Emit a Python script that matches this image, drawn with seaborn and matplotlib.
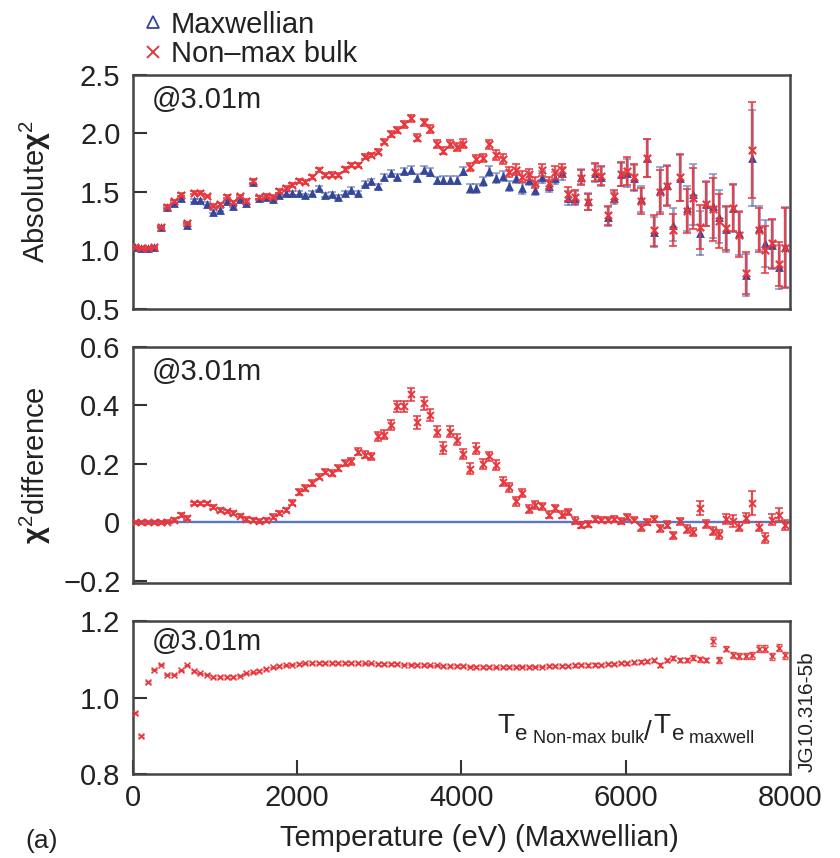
import numpy as np
import pandas as pd
import matplotlib
matplotlib.use("Agg")
import matplotlib.pyplot as plt
import seaborn as sns
from matplotlib.lines import Line2D

# Electron temperature grid (eV, Maxwellian fit)
temperature_ev = [
    20, 100, 180, 260, 340, 420, 500, 580, 660, 740,
    820, 900, 980, 1060, 1140, 1220, 1300, 1380, 1460, 1540,
    1620, 1700, 1780, 1860, 1940, 2020, 2100, 2180, 2260, 2340,
    2420, 2500, 2580, 2660, 2740, 2820, 2900, 2980, 3060, 3140,
    3220, 3300, 3380, 3460, 3540, 3620, 3700, 3780, 3860, 3940,
    4020, 4100, 4180, 4260, 4340, 4420, 4500, 4580, 4660, 4740,
    4820, 4900, 4980, 5060, 5140, 5220, 5300, 5380, 5460, 5540,
    5620, 5700, 5780, 5860, 5940, 6020, 6100, 6180, 6260, 6340,
    6420, 6500, 6580, 6660, 6740, 6820, 6900, 6980, 7060, 7140,
    7220, 7300, 7380, 7460, 7540, 7620, 7700, 7780, 7860, 7940,
]

# Absolute chi^2 of the Maxwellian fit
chi2_maxwellian = [
    1.03, 1.02, 1.02, 1.03, 1.20, 1.37, 1.41, 1.45, 1.22, 1.43,
    1.43, 1.40, 1.33, 1.35, 1.42, 1.38, 1.44, 1.41, 1.585, 1.45,
    1.46, 1.44, 1.476, 1.49, 1.49, 1.49, 1.47, 1.49, 1.53, 1.47,
    1.48, 1.46, 1.49, 1.52, 1.49, 1.57, 1.59, 1.55, 1.63, 1.66,
    1.63, 1.68, 1.69, 1.62, 1.69, 1.67, 1.60, 1.60, 1.60, 1.60,
    1.68, 1.53, 1.53, 1.59, 1.68, 1.62, 1.64, 1.55, 1.62, 1.53,
    1.605, 1.52, 1.63, 1.55, 1.62, 1.66, 1.45, 1.45, 1.63, 1.42,
    1.66, 1.63, 1.29, 1.45, 1.65, 1.66, 1.62, 1.44, 1.79, 1.16,
    1.52, 1.56, 1.22, 1.62, 1.36, 1.48, 1.15, 1.40, 1.38, 1.29,
    1.18, 1.36, 1.15, 0.79, 1.79, 1.19, 1.06, 1.05, 0.86, 1.03,
]

# chi^2(non-Maxwellian bulk) - chi^2(Maxwellian)
chi2_difference = [
    0.000, 0.000, 0.000, 0.000, 0.000, 0.003, 0.010, 0.026, 0.015, 0.065,
    0.065, 0.065, 0.053, 0.043, 0.038, 0.032, 0.023, 0.012, 0.009, 0.004,
    0.009, 0.020, 0.032, 0.043, 0.068, 0.104, 0.118, 0.135, 0.157, 0.174,
    0.169, 0.186, 0.203, 0.209, 0.241, 0.231, 0.226, 0.294, 0.300, 0.332,
    0.397, 0.397, 0.439, 0.343, 0.408, 0.368, 0.311, 0.254, 0.311, 0.283,
    0.234, 0.184, 0.252, 0.200, 0.226, 0.197, 0.140, 0.120, 0.072, 0.100,
    0.047, 0.060, 0.055, 0.026, 0.049, 0.026, 0.036, 0.006, -0.008, -0.005,
    0.013, 0.010, 0.010, 0.013, 0.004, 0.020, 0.010, -0.017, 0.001, 0.012,
    -0.019, -0.008, -0.044, 0.004, -0.022, -0.033, 0.049, -0.005, -0.028, -0.040,
    0.012, 0.004, -0.014, 0.015, 0.066, -0.014, -0.053, 0.010, 0.026, -0.008,
]

# Te(non-Maxwellian bulk) / Te(Maxwellian)
te_ratio = [
    0.960, 0.900, 1.040, 1.073, 1.086, 1.060, 1.060, 1.071, 1.084, 1.069,
    1.063, 1.060, 1.054, 1.053, 1.053, 1.054, 1.057, 1.063, 1.066, 1.070,
    1.075, 1.079, 1.082, 1.084, 1.086, 1.088, 1.089, 1.090, 1.090, 1.090,
    1.090, 1.090, 1.090, 1.090, 1.090, 1.089, 1.089, 1.088, 1.088, 1.087,
    1.087, 1.086, 1.086, 1.085, 1.085, 1.084, 1.084, 1.083, 1.083, 1.082,
    1.082, 1.081, 1.080, 1.080, 1.080, 1.079, 1.080, 1.080, 1.080, 1.081,
    1.080, 1.081, 1.081, 1.082, 1.082, 1.083, 1.083, 1.084, 1.085, 1.084,
    1.086, 1.085, 1.087, 1.088, 1.090, 1.089, 1.092, 1.094, 1.095, 1.098,
    1.086, 1.097, 1.104, 1.099, 1.098, 1.104, 1.100, 1.098, 1.147, 1.098,
    1.128, 1.112, 1.108, 1.108, 1.110, 1.128, 1.128, 1.108, 1.130, 1.110,
]

# Uncertainties
chi2_error = [
    0.010, 0.010, 0.010, 0.010, 0.012, 0.012, 0.012, 0.012, 0.012, 0.012,
    0.012, 0.012, 0.012, 0.012, 0.012, 0.012, 0.014, 0.014, 0.014, 0.014,
    0.014, 0.014, 0.015, 0.015, 0.015, 0.016, 0.016, 0.016, 0.017, 0.017,
    0.018, 0.018, 0.019, 0.019, 0.020, 0.020, 0.021, 0.022, 0.024, 0.025,
    0.026, 0.027, 0.028, 0.030, 0.030, 0.031, 0.032, 0.033, 0.033, 0.034,
    0.035, 0.036, 0.037, 0.038, 0.040, 0.040, 0.042, 0.044, 0.045, 0.046,
    0.048, 0.050, 0.052, 0.054, 0.055, 0.056, 0.060, 0.060, 0.065, 0.070,
    0.075, 0.080, 0.080, 0.050, 0.100, 0.120, 0.110, 0.110, 0.160, 0.130,
    0.190, 0.170, 0.140, 0.200, 0.190, 0.260, 0.190, 0.190, 0.270, 0.230,
    0.190, 0.200, 0.190, 0.180, 0.410, 0.190, 0.200, 0.210, 0.190, 0.340,
]
difference_error = [
    0.005, 0.005, 0.005, 0.005, 0.005, 0.005, 0.006, 0.006, 0.006, 0.006,
    0.006, 0.006, 0.006, 0.006, 0.006, 0.006, 0.006, 0.006, 0.007, 0.007,
    0.007, 0.008, 0.008, 0.008, 0.008, 0.009, 0.009, 0.009, 0.010, 0.010,
    0.010, 0.011, 0.011, 0.011, 0.012, 0.012, 0.012, 0.015, 0.016, 0.017,
    0.020, 0.020, 0.022, 0.022, 0.022, 0.020, 0.020, 0.020, 0.020, 0.018,
    0.018, 0.020, 0.018, 0.018, 0.016, 0.016, 0.015, 0.015, 0.015, 0.014,
    0.013, 0.013, 0.013, 0.012, 0.012, 0.012, 0.011, 0.011, 0.010, 0.010,
    0.010, 0.010, 0.010, 0.010, 0.010, 0.010, 0.010, 0.011, 0.011, 0.011,
    0.012, 0.012, 0.012, 0.012, 0.013, 0.013, 0.025, 0.014, 0.014, 0.015,
    0.016, 0.020, 0.016, 0.016, 0.040, 0.016, 0.016, 0.020, 0.022, 0.018,
]
ratio_error = [
    0.002, 0.002, 0.002, 0.002, 0.002, 0.002, 0.002, 0.002, 0.002, 0.002,
    0.002, 0.002, 0.002, 0.002, 0.002, 0.002, 0.002, 0.002, 0.002, 0.002,
    0.002, 0.002, 0.002, 0.002, 0.002, 0.002, 0.002, 0.002, 0.002, 0.002,
    0.002, 0.002, 0.002, 0.002, 0.002, 0.002, 0.002, 0.002, 0.002, 0.002,
    0.002, 0.002, 0.002, 0.002, 0.002, 0.002, 0.002, 0.002, 0.002, 0.002,
    0.002, 0.002, 0.002, 0.002, 0.002, 0.002, 0.002, 0.002, 0.002, 0.002,
    0.002, 0.002, 0.002, 0.002, 0.002, 0.002, 0.003, 0.003, 0.003, 0.003,
    0.003, 0.003, 0.003, 0.003, 0.003, 0.003, 0.004, 0.004, 0.004, 0.004,
    0.005, 0.005, 0.005, 0.005, 0.005, 0.006, 0.006, 0.006, 0.012, 0.007,
    0.007, 0.008, 0.008, 0.008, 0.008, 0.008, 0.009, 0.009, 0.009, 0.010,
]

series_labels = ["Maxwellian", "Non\u2013max bulk"]
chi2_ticks = [0.5, 1.0, 1.5, 2.0, 2.5]
diff_ticks = [-0.2, 0.0, 0.2, 0.4, 0.6]
diff_ticklabels = ["\u22120.2", "0", "0.2", "0.4", "0.6"]
ratio_ticks = [0.8, 1.0, 1.2]
temp_ticks = [0, 2000, 4000, 6000, 8000]

df = pd.DataFrame({
    "T": temperature_ev,
    "maxw": chi2_maxwellian,
    "diff": chi2_difference,
    "ratio": te_ratio,
    "err": chi2_error,
    "derr": difference_error,
    "rerr": ratio_error,
})
df["nonmax"] = df["maxw"] + df["diff"]

sns.set_style("ticks")
plt.rcParams["font.family"] = ["Liberation Sans", "DejaVu Sans"]
plt.rcParams["mathtext.fontset"] = "custom"
plt.rcParams["mathtext.rm"] = "Liberation Sans"
plt.rcParams["mathtext.bf"] = "Liberation Sans:bold"
plt.rcParams["mathtext.it"] = "Liberation Sans:italic"

RED = "#e8363c"
BLUE = "#34479a"
ZERO_BLUE = "#5a78c6"
INK = "#222222"
FS = 21

fig = plt.figure(figsize=(8.4, 8.58), dpi=100)
ax1 = fig.add_axes([0.1583, 0.6399, 0.7822, 0.2727])
ax2 = fig.add_axes([0.1583, 0.3205, 0.7822, 0.2751])
ax3 = fig.add_axes([0.1583, 0.0979, 0.7822, 0.1783])

# --- absolute chi^2 ---
ax1.errorbar(df["T"], df["maxw"], yerr=df["err"], fmt="none", ecolor=BLUE,
             alpha=0.5, elinewidth=2.0, capsize=2.8, capthick=1.3, zorder=2)
sns.scatterplot(data=df, x="T", y="maxw", marker="^", color=BLUE, s=40,
                linewidth=0, ax=ax1, zorder=3)
ax1.errorbar(df["T"], df["nonmax"], yerr=df["err"], fmt="none", ecolor=RED,
             alpha=0.85, elinewidth=1.7, capsize=2.8, capthick=1.3, zorder=4)
sns.scatterplot(data=df, x="T", y="nonmax", marker="x", color=RED, s=28,
                linewidth=1.5, ax=ax1, zorder=5)

# --- chi^2 difference ---
ax2.axhline(0, color=ZERO_BLUE, lw=1.7, zorder=1)
ax2.errorbar(df["T"], df["diff"], yerr=df["derr"], fmt="none", ecolor=RED,
             alpha=0.9, elinewidth=1.6, capsize=2.8, capthick=1.2, zorder=2)
sns.scatterplot(data=df, x="T", y="diff", marker="x", color=RED, s=25,
                linewidth=1.4, ax=ax2, zorder=3)

# --- temperature ratio ---
ax3.errorbar(df["T"], df["ratio"], yerr=df["rerr"], fmt="none", ecolor=RED,
             alpha=0.85, elinewidth=1.2, capsize=2, capthick=1.0, zorder=2)
sns.scatterplot(data=df, x="T", y="ratio", marker="x", color=RED, s=18,
                linewidth=1.1, ax=ax3, zorder=3)

for ax in (ax1, ax2, ax3):
    ax.set_xlim(0, 8000)
    for sp in ax.spines.values():
        sp.set_visible(True)
        sp.set_linewidth(1.8)
        sp.set_color("#444444")
    ax.tick_params(axis="y", direction="in", length=10, width=1.5,
                   colors="#333333", labelcolor=INK, labelsize=FS, pad=9)
    ax.set_xlabel("")
    ax.set_ylabel("")
    ax.text(0.029, 0.955, "@3.01m", transform=ax.transAxes, ha="left",
            va="top", fontsize=FS, color=INK)

for ax in (ax1, ax2):
    ax.tick_params(axis="x", bottom=False, labelbottom=False)

ax1.set_ylim(0.5, 2.5)
ax1.set_yticks(chi2_ticks)
ax2.set_ylim(-0.207, 0.6)
ax2.set_yticks(diff_ticks)
ax2.set_yticklabels(diff_ticklabels)
ax3.set_ylim(0.8, 1.2)
ax3.set_yticks(ratio_ticks)
ax3.set_xticks(temp_ticks)
ax3.tick_params(axis="x", direction="in", length=10, width=1.5,
                colors="#333333", labelcolor=INK, labelsize=FS, pad=7)

ax1.set_ylabel(r"Absolute$\mathbf{\chi}^{2}$", fontsize=FS, color=INK)
ax2.set_ylabel(r"$\mathbf{\chi}^{2}$difference", fontsize=FS, color=INK)
ax1.yaxis.set_label_coords(-0.122, 0.5)
ax2.yaxis.set_label_coords(-0.122, 0.5)

ax3.set_xlabel("Temperature (eV) (Maxwellian)", fontsize=FS, color=INK)
ax3.xaxis.set_label_coords(0.527, -0.33)
ax3.xaxis.label.set_va("top")

# Te ratio annotation built from pieces with sub-baselines
yb = 0.268
t_a = ax3.text(0.554, yb, "T", transform=ax3.transAxes, va="baseline",
               fontsize=20, color=INK)
t_b = ax3.annotate("e", xy=(1.0, yb), xycoords=(t_a, "axes fraction"),
                   xytext=(1, -5), textcoords="offset points",
                   va="baseline", fontsize=16, color=INK)
t_c = ax3.annotate(" Non-max bulk", xy=(1.0, yb), xycoords=(t_b, "axes fraction"),
                   xytext=(0, -7), textcoords="offset points",
                   va="baseline", fontsize=13, color=INK)
t_d = ax3.annotate("/", xy=(1.0, yb), xycoords=(t_c, "axes fraction"),
                   xytext=(0, -5), textcoords="offset points",
                   va="baseline", fontsize=20, color=INK)
t_e = ax3.annotate("T", xy=(1.0, yb), xycoords=(t_d, "axes fraction"),
                   xytext=(1, 0), textcoords="offset points",
                   va="baseline", fontsize=20, color=INK)
t_f = ax3.annotate("e", xy=(1.0, yb), xycoords=(t_e, "axes fraction"),
                   xytext=(1, -5), textcoords="offset points",
                   va="baseline", fontsize=16, color=INK)
t_g = ax3.annotate(" maxwell", xy=(1.0, yb), xycoords=(t_f, "axes fraction"),
                   xytext=(0, -7), textcoords="offset points",
                   va="baseline", fontsize=13, color=INK)

# Legend above the top panel
handles = [
    Line2D([], [], marker="^", ls="none", mfc="none", mec=BLUE, mew=1.3, ms=9),
    Line2D([], [], marker="x", ls="none", color=RED, mew=1.4, ms=9),
]
fig.legend(handles, series_labels, loc="upper left", bbox_to_anchor=(0.146, 1.008),
           frameon=False, fontsize=FS, handlelength=0.9, handletextpad=0.15,
           labelspacing=0.05, borderpad=0.1, labelcolor=INK)

fig.text(0.961, 0.17, "JG10.316-5b", rotation=90, ha="center", va="center",
         fontsize=15, color=INK)
fig.text(0.030, 0.020, "(a)", ha="left", va="center", fontsize=19, color=INK)

fig.savefig("out.png", dpi=100)
